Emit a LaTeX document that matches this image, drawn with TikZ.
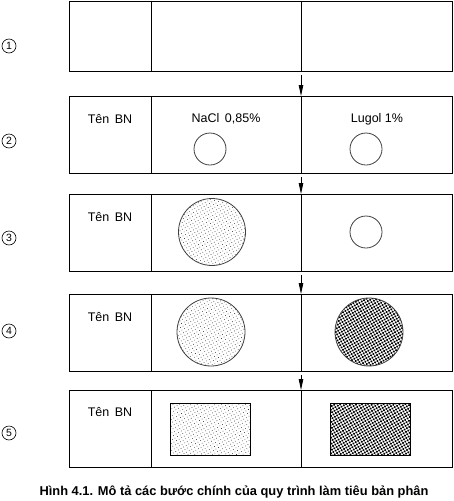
\documentclass[tikz,border=0pt]{standalone}
\usepackage{fontspec}
\setmainfont{Liberation Sans}
\usetikzlibrary{arrows.meta, positioning, patterns.meta}

\tikzset{
  row/.style={draw, line width=1pt, rectangle, anchor=north west,
              minimum width=383pt, inner sep=0pt},
  lbl/.style={font=\fontsize{12.5}{14}\selectfont},
  num/.style={draw, circle, line width=0.6pt, minimum size=14pt,
              inner sep=0pt, font=\fontsize{10.5}{12}\selectfont},
  dish/.style={draw=black!75, line width=0.8pt, circle, inner sep=0pt},
  slide/.style={draw, line width=0.9pt, rectangle, inner sep=0pt,
                minimum width=80pt, minimum height=52pt},
  light/.style={pattern={Dots[radius=0.4pt, distance=3pt, angle=30]}},
  dark/.style={pattern={Dots[radius=1.2pt, distance=2.7pt, angle=30]}},
  arr/.style={-{Triangle[length=11pt, width=4.5pt]}, line width=0.8pt,
              shorten <=3pt}
}

\begin{document}
\begin{tikzpicture}[x=1pt, y=-1pt]
  \useasboundingbox (0,0) rectangle (453,501);
  % rows
  \foreach \n/\t/\h in {1/0.5/70.5, 2/96/77, 3/194/77, 4/294/77, 5/390/77} {
    \node[row, minimum height=\h] (row\n) at (69,\t) {};
    \draw[line width=1pt] (row\n.north -| 151,0) -- (row\n.south -| 151,0);
    \draw[line width=1pt] (row\n.north -| 301,0) -- (row\n.south -| 301,0);
  }
  % step numbers
  \foreach \n/\y in {1/46, 2/141, 3/238, 4/331, 5/433}
    \node[num] (n\n) at (9,\y) {\n};
  % arrows
  \foreach \a/\b in {1/2, 2/3, 3/4, 4/5}
    \draw[arr] (row\a.south -| 301,0) -- (row\b.north -| 301,0);
  % patient name
  \foreach \n/\y in {2/119, 3/217, 4/317, 5/412}
    \node[lbl] (ten\n) at (110,\y) {Tên\, BN};
  % step 2
  \node[lbl] (nacl) at (226,119) {NaCl\, 0,85\%};
  \node[lbl] (lugol) at (377,119) {Lugol 1\%};
  \node[dish, minimum size=32pt] (d2a) at (210,149) {};
  \node[dish, minimum size=32pt] (d2b) at (366,149) {};
  % step 3
  \node[dish, light, minimum size=67pt] (d3a) at (212,232) {};
  \node[dish, minimum size=32pt] (d3b) at (366,232) {};
  % step 4
  \node[dish, light, minimum size=68pt] (d4a) at (211,332) {};
  \node[dish, dark, minimum size=68pt] (d4b) at (369,332) {};
  % step 5
  \node[slide, light] (s5a) at (210,429) {};
  \node[slide, dark] (s5b) at (370,429) {};
  % caption
  \node[font=\bfseries\fontsize{12.85}{14}\selectfont] (cap) at (234,492)
    {Hình 4.1. Mô tả các bước chính của quy trình làm tiêu bản phân};
\end{tikzpicture}
\end{document}
